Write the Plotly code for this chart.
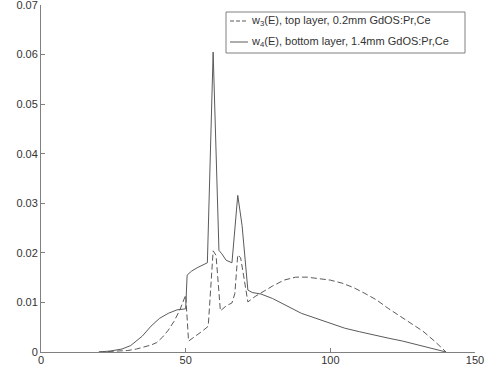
import plotly.graph_objects as go

# w3(E): top layer, 0.2mm GdOS:Pr,Ce (dashed)
w3_energy = [20, 25, 30, 33, 36, 38, 40, 42, 44, 46, 48, 50, 51, 53, 55, 57, 57.8, 59.5, 60.5, 62,
             64, 66, 67, 68, 69, 70, 71.5, 74, 77, 80, 84, 88, 92, 96, 100, 104, 108, 112, 116,
             120, 124, 128, 132, 136, 140]
w3_values = [0, 0.0001, 0.0003, 0.0006, 0.001, 0.0014, 0.0019, 0.003, 0.0044, 0.0062, 0.0085, 0.0115,
             0.0022, 0.003, 0.0039, 0.0048, 0.0052, 0.0204, 0.0195, 0.0083, 0.0093, 0.0099, 0.0118,
             0.0196, 0.019, 0.0155, 0.0101, 0.0112, 0.0123, 0.0133, 0.0145, 0.0151, 0.0151, 0.0148,
             0.0145, 0.0139, 0.013, 0.0118, 0.0105, 0.0088, 0.0073, 0.0058, 0.0042, 0.0022, 0.0]

# w4(E): bottom layer, 1.4mm GdOS:Pr,Ce (solid)
w4_energy = [20, 24, 28, 31, 35, 38, 41, 44, 47, 50, 50.5, 52, 54, 56, 57.5, 59.5, 61.5, 62.5, 64,
             66, 68, 69.5, 71.5, 73, 76, 80, 85, 90, 95, 100, 105, 110, 115, 120, 125, 130, 135, 140]
w4_values = [0, 0.0002, 0.0006, 0.0013, 0.0032, 0.0052, 0.0068, 0.0078, 0.0085, 0.0087, 0.0155,
             0.0163, 0.017, 0.0176, 0.018, 0.0605, 0.0205, 0.0198, 0.0185, 0.018, 0.0316, 0.0255,
             0.0125, 0.012, 0.0117, 0.0108, 0.0093, 0.0078, 0.0068, 0.0058, 0.0048, 0.0041, 0.0034,
             0.0028, 0.0022, 0.0015, 0.0008, 0.0]

legend_labels = ["w<sub>3</sub>(E), top layer, 0.2mm GdOS:Pr,Ce",
                 "w<sub>4</sub>(E), bottom layer, 1.4mm GdOS:Pr,Ce"]

x_ticks = [0, 50, 100, 150]
y_ticks = [0, 0.01, 0.02, 0.03, 0.04, 0.05, 0.06, 0.07]
y_tick_text = ["0", "0.01", "0.02", "0.03", "0.04", "0.05", "0.06", "0.07"]

line_color = "#5a5a5a"
axis_color = "#808080"
text_color = "#333333"
font_family = "Liberation Sans, Arial, sans-serif"

fig = go.Figure()
fig.add_trace(go.Scatter(x=w3_energy, y=w3_values, mode="lines", name=legend_labels[0],
                         line=dict(color=line_color, width=1, dash="6px,3px")))
fig.add_trace(go.Scatter(x=w4_energy, y=w4_values, mode="lines", name=legend_labels[1],
                         line=dict(color=line_color, width=1)))

W, H = 487, 374
L, R, T, B = 41, 12, 5, 22
pw, ph = W - L - R, H - T - B

fig.update_layout(
    template="none",
    width=W, height=H,
    margin=dict(l=L, r=R, t=T, b=B, autoexpand=False),
    paper_bgcolor="white", plot_bgcolor="white",
    showlegend=False,
    font=dict(family=font_family, size=11, color=text_color),
    xaxis=dict(range=[0, 150.0001], tickvals=x_ticks, ticks="inside", ticklen=4,
               tickcolor=axis_color, showline=True, linecolor=axis_color, linewidth=1,
               showgrid=False, zeroline=False, automargin=False, ticklabelstandoff=-2,
               ticklabeloverflow="allow",
               tickfont=dict(size=11, color=text_color)),
    yaxis=dict(range=[0, 0.07000001], tickvals=y_ticks, ticktext=y_tick_text, ticks="inside",
               ticklen=4, tickcolor=axis_color, showline=True, linecolor=axis_color,
               linewidth=1, showgrid=False, zeroline=False, automargin=False,
               ticklabeloverflow="allow",
               tickfont=dict(size=11, color=text_color)),
)

# Manual legend box (pixel positions converted to paper coordinates)
def px(xp):
    return (xp - L) / pw

def py(yp):
    return 1 - (yp - T) / ph

box_l, box_r, box_t, box_b = 226, 465, 12, 53
fig.add_shape(type="rect", xref="paper", yref="paper",
              x0=px(box_l), x1=px(box_r), y0=py(box_b), y1=py(box_t),
              line=dict(color=axis_color, width=1), fillcolor="white", layer="above")
rows = [21, 42]
dashes = ["4px,2px", "solid"]
for label, yr, d in zip(legend_labels, rows, dashes):
    fig.add_shape(type="line", xref="paper", yref="paper",
                  x0=px(230), x1=px(248), y0=py(yr), y1=py(yr),
                  line=dict(color=line_color, width=1, dash=d), layer="above")
    fig.add_annotation(xref="paper", yref="paper", x=px(249), y=py(yr),
                       text=label, showarrow=False, xanchor="left", yanchor="middle",
                       font=dict(size=11, color=text_color, family=font_family))

fig.write_html("out.html", config={"displayModeBar": False},
               post_script="document.body.style.margin='0px';document.body.style.overflow='hidden';")
